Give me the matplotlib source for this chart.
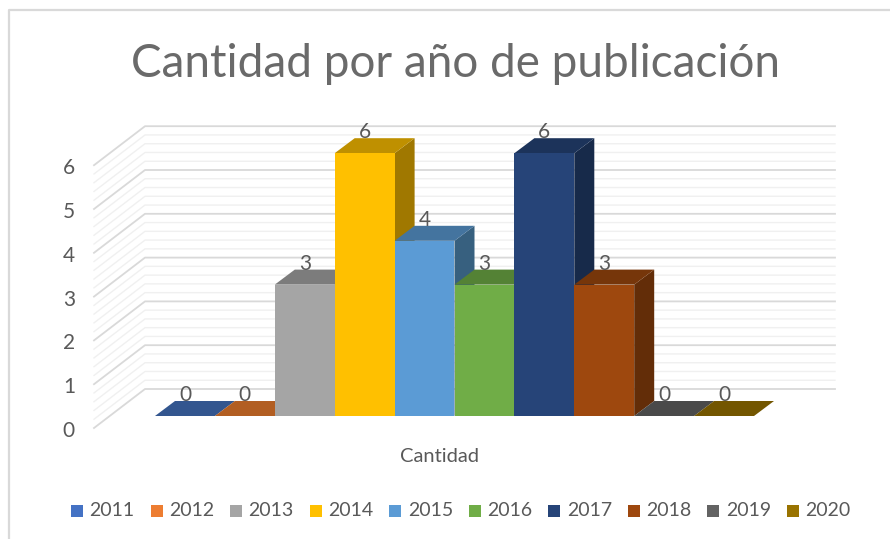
import matplotlib.pyplot as plt
from matplotlib.patches import Polygon, Rectangle

plt.rcParams['font.family'] = ['Lato', 'DejaVu Sans']

years = ['2011', '2012', '2013', '2014', '2015', '2016', '2017', '2018', '2019', '2020']
cantidad = [0, 0, 3, 6, 4, 3, 6, 3, 0, 0]
front = ['#4472c4', '#ed7d31', '#a5a5a5', '#ffc000', '#5b9bd5', '#70ad47', '#264478', '#9e480e', '#636363', '#997300']
top = ['#33568f', '#b25e22', '#7c7c7c', '#bf9000', '#44749f', '#548235', '#1c335a', '#76360a', '#4a4a4a', '#735600']
side = ['#2a4675', '#8f4c1c', '#636363', '#a07800', '#37607f', '#44682a', '#172a4a', '#632d08', '#3c3c3c', '#5e4600']
yticks = [0, 1, 2, 3, 4, 5, 6]

W, H = 890, 539
X0, BASE, UX, UY = 155, 416, 59.9, 43.8   # pixels of the first bar / baseline, pixels per unit
DX, DY = 20 / UX, 15 / UY                 # bar depth in data units

fig = plt.figure(figsize=(W / 100, H / 100), dpi=100)
ax = fig.add_axes([0, 0, 1, 1])
ax.set_xlim(-X0 / UX, (W - X0) / UX)
ax.set_ylim(-(H - BASE) / UY, BASE / UY)
ax.axis('off')

# chart border, only top and left show in the picture
ax.plot([9 / W, 9 / W, 1], [0, 1 - 10 / H, 1 - 10 / H], transform=ax.transAxes, color='#d9d9d9', lw=1.6, clip_on=False)

# back wall and side wall grid
wall_l = (145 - X0) / UX
wall_r = (835 - X0) / UX
off_x = (94 - 145) / UX
off_y = -39 / UY
back = 27 / UY
for i in range(31):
    v = i / 5
    major = i % 5 == 0
    c = '#d9d9d9' if major else '#f0f0f0'
    lw = 1.3 if major else 1.0
    y = v + back
    ax.plot([wall_l + off_x, wall_l, wall_r], [y + off_y, y, y], color=c, lw=lw, zorder=1)

# tick labels sit at the front end of the side wall
for v in yticks:
    ax.text((75 - X0) / UX, v + back + off_y - 3 / UY, str(v), ha='right', va='center', fontsize=15, color='#595959')

# bars, left to right, side faces first so the next bar covers them
for i, v in enumerate(cantidad):
    z = 3 + i
    ax.add_patch(Polygon([(i + 1, 0), (i + 1 + DX, DY), (i + 1 + DX, v + DY), (i + 1, v)], fc=side[i], ec='none', zorder=z))
    ax.add_patch(Polygon([(i, v), (i + DX, v + DY), (i + 1 + DX, v + DY), (i + 1, v)], fc=top[i], ec='none', zorder=z))
    ax.add_patch(Rectangle((i, 0), 1, v, fc=front[i], ec='none', zorder=z + 0.5))
    ax.text(i + 0.5, v + DY + 6 / UY, str(v), ha='center', va='center', fontsize=15, color='#595959', zorder=20)

ax.text(455.5 / W, 1 - 64 / H, 'Cantidad por año de publicación', transform=ax.transAxes, ha='center', va='center', fontsize=33, color='#6a6a6a')
ax.text(439.5 / W, 1 - 456 / H, 'Cantidad', transform=ax.transAxes, ha='center', va='center', fontsize=14.5, color='#595959')

# legend
for i, y in enumerate(years):
    px = 71 + i * 79.55
    ax.add_patch(Rectangle((px / W, 1 - 517 / H), 12 / W, 12 / H, transform=ax.transAxes, fc=front[i], ec='none'))
    ax.text((px + 18.5) / W, 1 - 511 / H, y, transform=ax.transAxes, ha='left', va='center', fontsize=14, color='#595959')

fig.savefig('out.png', dpi=100)
